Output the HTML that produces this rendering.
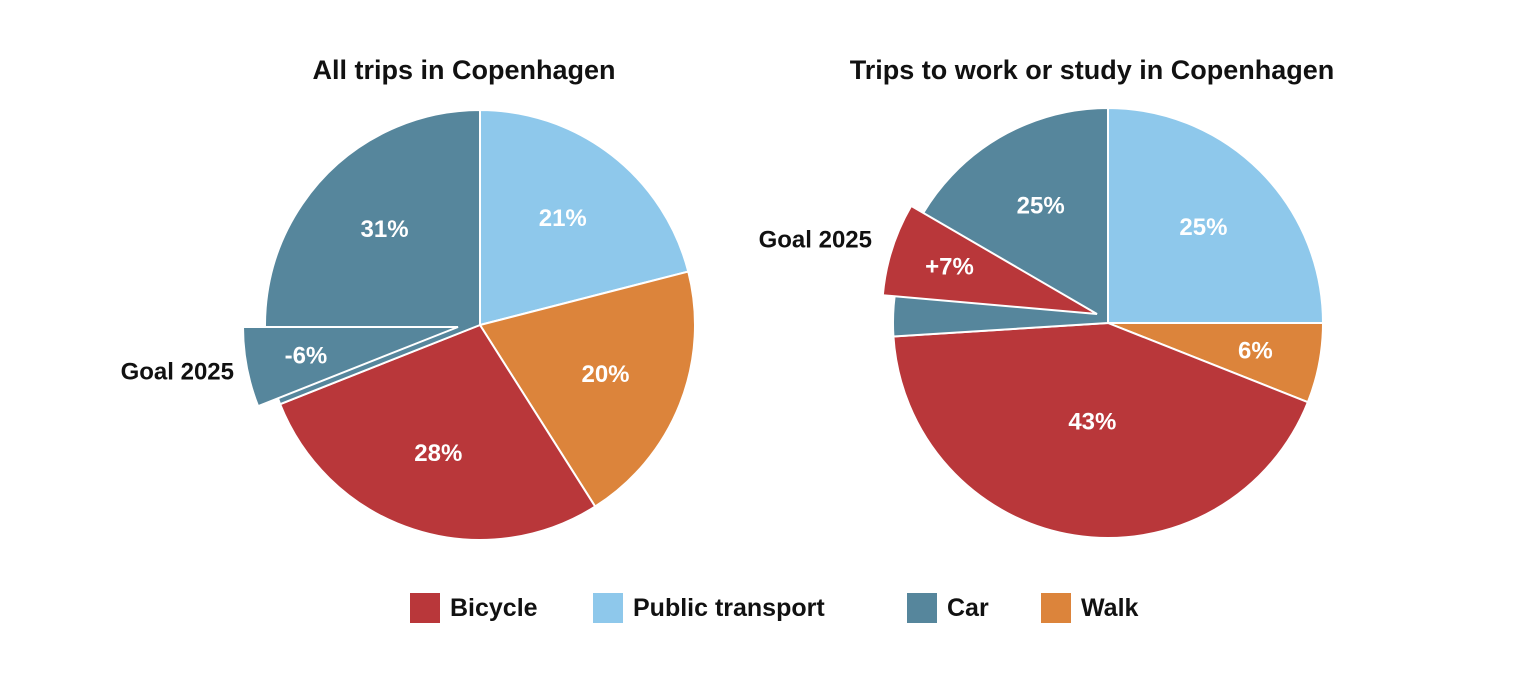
<!DOCTYPE html>
<html><head><meta charset="utf-8"><style>
body{margin:0;background:#fff;width:1520px;height:686px;overflow:hidden}
svg text{font-family:"Liberation Sans",sans-serif;font-weight:bold}
</style></head><body>
<svg id="chart" width="1520" height="686" viewBox="0 0 1520 686"></svg>
<script>
const categories = ["Public transport","Walk","Bicycle","Car"];
const allTrips = [21,20,28,31];
const workTrips = [25,6,43,25];
const goalAll = -6;
const goalWork = 7;
const legendLabels = ["Bicycle","Public transport","Car","Walk"];
const colors = {"Bicycle":"#b9373a","Public transport":"#8ec8eb","Car":"#56869c","Walk":"#dc843b"};
const NS="http://www.w3.org/2000/svg";
const svg=document.getElementById('chart');
function mk(tag,attrs,parent){const e=document.createElementNS(NS,tag);for(const k in attrs)e.setAttribute(k,attrs[k]);(parent||svg).appendChild(e);return e;}
function pt(cx,cy,r,deg){const a=deg*Math.PI/180;return [cx+r*Math.sin(a),cy-r*Math.cos(a)];}
function arc(cx,cy,r,a0,a1){const p0=pt(cx,cy,r,a0),p1=pt(cx,cy,r,a1);const large=(a1-a0)>180?1:0;return `M${cx},${cy}L${p0[0]},${p0[1]}A${r},${r} 0 ${large} 1 ${p1[0]},${p1[1]}Z`;}
function label(x,y,t,size,fill,anchor){const e=mk('text',{x:x,y:y,'font-size':size,fill:fill,'text-anchor':anchor||'middle','dominant-baseline':'central'});e.textContent=t;return e;}

function pie(cx,cy,r,vals,title,goal,goalStart,goalDx,goalDy,goalLabelPos,pieName){
  const g=mk('g',{});
  
  
  const tt=label(cx-16,70,title,27,'#111');
  
  
  let a=0;const mids=[];
  vals.forEach((v,i)=>{
    let a1=a+v*3.6;
    if(i===vals.length-1) a1=360;
    const p=mk('path',{d:arc(cx,cy,r,a,a1),fill:colors[categories[i]],stroke:'#fff','stroke-width':2},g);
    
    
    mids.push([a,a1]);a=a1;
  });
  const span=Math.abs(goal)*3.6;
  const gs=goalStart, ge=goalStart+span;
  const gc=goal<0?colors["Car"]:colors["Bicycle"];
  const w=mk('path',{d:arc(cx+goalDx,cy+goalDy,r,gs,ge),fill:gc,stroke:'#fff','stroke-width':2},g);
  
  
  vals.forEach((v,i)=>{
    let [s,e]=mids[i];
    if(categories[i]==="Car"){s=Math.max(s,ge);}
    const m=(s+e)/2;const rr=categories[i]==="Bicycle"&&v>40?100:(v<10?150:135);
    const p=pt(cx,cy,rr,m);
    const l=label(p[0],p[1],v+'%',24,'#fff');
    
    
  });
  const gm=pt(cx+goalDx,cy+goalDy,r*0.72,(gs+ge)/2);
  const gl=label(gm[0],gm[1],(goal>0?'+':'')+goal+'%',24,'#fff');
  
  
  const gt=label(goalLabelPos[0],goalLabelPos[1],'Goal 2025',24,'#111','end');
  
  
}
pie(480,325,215,allTrips,"All trips in Copenhagen",goalAll,270+goalAll*3.6,-22,2,[234,372],'pie-all-trips');
pie(1108,323,215,workTrips,"Trips to work or study in Copenhagen",goalWork,275,-11,-9,[872,240],'pie-work-study');

const legX=[410,593,907,1041];
legendLabels.forEach((n,i)=>{
  const g=mk('g',{});
  
  
  mk('rect',{x:legX[i],y:593,width:30,height:30,fill:colors[n]},g);
  const t=mk('text',{x:legX[i]+40,y:608,'font-size':25,fill:'#111','dominant-baseline':'central'},g);
  t.textContent=n;
});
</script>
</body></html>
